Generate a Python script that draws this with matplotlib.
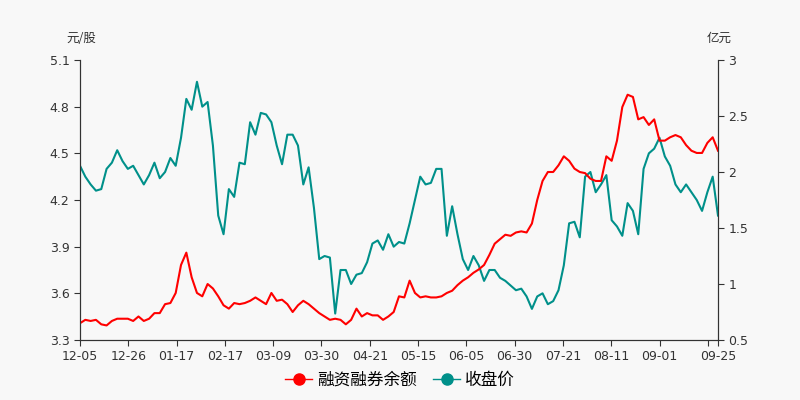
import numpy as np
import matplotlib
matplotlib.use("Agg")
from matplotlib import pyplot as plt

plt.rcParams['font.family'] = ['DejaVu Sans', 'Noto Sans CJK SC']

# 收盘价 (元/股)
price = [4.42, 4.35, 4.30, 4.26, 4.27, 4.40, 4.44, 4.52, 4.45, 4.40,
         4.42, 4.36, 4.30, 4.36, 4.44, 4.34, 4.38, 4.47, 4.42, 4.60,
         4.85, 4.78, 4.96, 4.80, 4.83, 4.55, 4.10, 3.98, 4.27, 4.22,
         4.44, 4.43, 4.70, 4.62, 4.76, 4.75, 4.70, 4.55, 4.43, 4.62,
         4.62, 4.55, 4.30, 4.41, 4.15, 3.82, 3.84, 3.83, 3.47, 3.75,
         3.75, 3.66, 3.72, 3.73, 3.80, 3.92, 3.94, 3.88, 3.98, 3.90,
         3.93, 3.92, 4.05, 4.20, 4.35, 4.30, 4.31, 4.40, 4.40, 3.97,
         4.16, 3.98, 3.82, 3.75, 3.84, 3.78, 3.68, 3.75, 3.75, 3.70,
         3.68, 3.65, 3.62, 3.63, 3.58, 3.50, 3.58, 3.60, 3.53, 3.55,
         3.62, 3.78, 4.05, 4.06, 3.96, 4.35, 4.38, 4.25, 4.30, 4.36,
         4.07, 4.03, 3.97, 4.18, 4.13, 3.98, 4.40, 4.50, 4.53, 4.60,
         4.48, 4.42, 4.30, 4.25, 4.30, 4.25, 4.20, 4.13, 4.25, 4.35, 4.10]

# 融资融券余额 (亿元)
margin = [0.65, 0.68, 0.67, 0.68, 0.64, 0.63, 0.67, 0.69, 0.69, 0.69,
          0.67, 0.71, 0.67, 0.69, 0.74, 0.74, 0.82, 0.83, 0.92, 1.17,
          1.28, 1.06, 0.92, 0.89, 1.00, 0.96, 0.89, 0.81, 0.78, 0.83,
          0.82, 0.83, 0.85, 0.88, 0.85, 0.82, 0.92, 0.85, 0.86, 0.82,
          0.75, 0.81, 0.85, 0.82, 0.78, 0.74, 0.71, 0.68, 0.69, 0.68,
          0.64, 0.68, 0.78, 0.71, 0.74, 0.72, 0.72, 0.68, 0.71, 0.75,
          0.89, 0.88, 1.03, 0.92, 0.88, 0.89, 0.88, 0.88, 0.89, 0.92,
          0.94, 0.99, 1.03, 1.06, 1.10, 1.13, 1.17, 1.26, 1.36, 1.40,
          1.44, 1.43, 1.46, 1.47, 1.46, 1.54, 1.75, 1.92, 2.00, 2.00,
          2.06, 2.14, 2.10, 2.03, 2.00, 1.99, 1.94, 1.92, 1.92, 2.14,
          2.10, 2.28, 2.58, 2.69, 2.67, 2.47, 2.49, 2.42, 2.47, 2.28,
          2.28, 2.31, 2.33, 2.31, 2.24, 2.19, 2.17, 2.17, 2.26, 2.31, 2.19]

tick_labels = ['12-05', '12-26', '01-17', '02-17', '03-09', '03-30', '04-21',
               '05-15', '06-05', '06-30', '07-21', '08-11', '09-01']
last_label = '09-25'

teal = '#00908a'
red = '#ff0000'
axis_col = '#333333'

fig = plt.figure(figsize=(8, 4), dpi=100, facecolor='#f8f8f8')
ax = fig.add_axes([0.1, 0.15, 0.7975, 0.70])
ax.set_facecolor('#f8f8f8')
ax2 = ax.twinx()

x = np.arange(len(price))
n = len(price) - 1
ax.plot(x, price, color=teal, lw=1.5)
ax2.plot(x, margin, color=red, lw=1.5)

ax.set_xlim(0, n)
ax.set_ylim(3.3, 5.1)
ax.set_yticks(np.arange(3.3, 5.11, 0.3))
ax.set_yticklabels([f'{v:.1f}' for v in np.arange(3.3, 5.11, 0.3)])
ax2.set_ylim(0.5, 3)
ax2.set_yticks([0.5, 1, 1.5, 2, 2.5, 3])
ax2.set_yticklabels(['0.5', '1', '1.5', '2', '2.5', '3'])

step = n / 13.21
ticks = list(np.arange(14) * step) + [n]
ax.set_xticks(ticks)
ax.set_xticklabels(tick_labels + ['', last_label])

for a in (ax, ax2):
    a.spines['top'].set_visible(False)
    a.spines['left'].set_color(axis_col)
    a.spines['right'].set_color(axis_col)
    a.spines['bottom'].set_color(axis_col)
    a.tick_params(colors=axis_col, labelsize=9, length=4)

cjk = ['Noto Sans CJK SC', 'DejaVu Sans']
fig.text(0.083, 0.895, '元/股', fontsize=9, color=axis_col, family=cjk)
fig.text(0.883, 0.895, '亿元', fontsize=9, color=axis_col, family=cjk)

h1, = ax.plot([], [], color=red, marker='o', ms=8, lw=1)
h2, = ax.plot([], [], color=teal, marker='o', ms=8, lw=1)
fig.legend([h1, h2], ['融资融券余额', '收盘价'], loc='lower center', ncol=2,
           frameon=False, prop={'family': cjk, 'size': 12},
           bbox_to_anchor=(0.5, -0.01),
           handlelength=1.6, columnspacing=1.0, handletextpad=0.3)

fig.savefig('out.png', facecolor=fig.get_facecolor())
